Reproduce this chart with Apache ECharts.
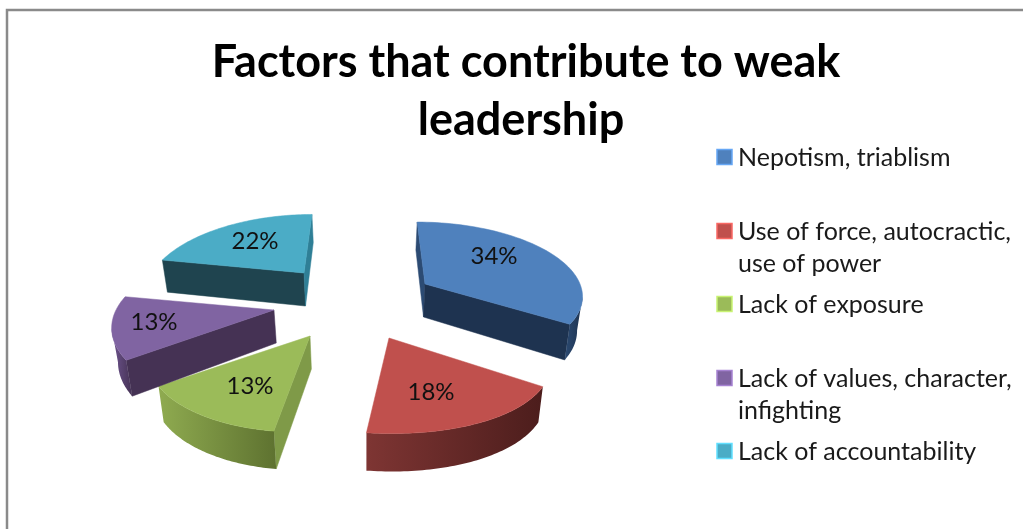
<!DOCTYPE html>
<html>
<head>
<meta charset="utf-8">
<title>Factors that contribute to weak leadership</title>
<style>
  html, body { margin: 0; padding: 0; background: #fff; }
  #chart { width: 1023px; height: 529px; }
</style>
<script src="https://cdn.jsdelivr.net/npm/echarts@6/dist/echarts.min.js"></script>
</head>
<body>
<div id="chart"></div>
<script>
// Chart values
const categories = ['Nepotism, triablism', 'Use of force, autocractic,\nuse of power', 'Lack of exposure', 'Lack of values, character,\ninfighting', 'Lack of accountability'];
const shares = [34, 18, 13, 13, 22];
const titleLines = ['Factors that contribute to weak', 'leadership'];

// Slice colours: top face, start-cut wall, end-cut wall, outer wall gradient
const topColors = ['#4F81BD', '#C0504D', '#9BBB59', '#8064A2', '#4BACC6'];
const startCutColors = ['#2C4B73', '#4A1C1B', '#7F9A48', '#453254', '#1F444F'];
const endCutColors = ['#1E3350', '#4A1C1B', '#7F9A48', '#453254', '#2F7F96'];
const outerWallStops = [['#2B4A72', '#1E3350'], ['#7E3533', '#4C1D1C'], ['#8FAB50', '#5E7230'], ['#6F5590', '#453254'], ['#1F444F', '#1F444F']];

// Projection of each exploded slice of the tilted disc
const THICKNESS = 33, VANISH_X = 365, CONVERGE = 0.025;
const sliceApex = [[425, 284], [389, 338], [310, 336], [274, 310], [304, 273]];
const sliceRadius = [155, 158, 155, 158, 152];
const sliceDepth = [70, 86, 74, 74, 72];
const perspX = [0.13, 0.23, 0.23, 0.23, 0.23];
const perspY = [0.13, 0.1, 0.23, 0.23, 0.23];
const sliceSlant = [0.13, 0.13, 0.2, 0, 0.13];
const labelAt = [[494, 256], [431, 392], [250, 386], [154, 322], [255, 241]];

function rimPoint(i, angle) {
  const apex = sliceApex[i];
  const u = Math.sin(angle), v = -Math.cos(angle);
  return [apex[0] + sliceRadius[i] * u / (1 - perspX[i] * v) + (apex[0] - VANISH_X) * sliceSlant[i] * v,
          apex[1] + sliceDepth[i] * v / (1 - perspY[i] * v), v];
}
// Lower edge of a wall: walls lean towards the vanishing line and grow nearer the viewer
const dropped = (p, v) => [p[0] + (VANISH_X - p[0]) * CONVERGE, p[1] + THICKNESS * (1 + 0.15 * (v === undefined ? 0 : v))];

function renderSlice(params, api) {
  const i = params.dataIndex;
  const total = shares.reduce((a, b) => a + b, 0);
  const before = shares.slice(0, i).reduce((a, b) => a + b, 0);
  const a0 = before / total * Math.PI * 2;
  const a1 = (before + api.value(0)) / total * Math.PI * 2;
  const apex = sliceApex[i];
  const steps = 60;
  const rim = [];
  for (let k = 0; k <= steps; k++) rim.push(rimPoint(i, a0 + (a1 - a0) * k / steps));

  const children = [];
  const wall = (a, b, va, vb, color) => ({
    type: 'polygon',
    shape: { points: [a, b, dropped(b, vb), dropped(a, va)] },
    style: { fill: color, stroke: color, lineWidth: 0.5 }
  });
  const first = rim[0], last = rim[steps];
  // A wall can be seen only when its top edge runs leftwards around the clockwise outline
  if (first[0] < apex[0]) children.push(wall(apex, first, 0, first[2], startCutColors[i]));
  if (apex[0] < last[0]) children.push(wall(last, apex, last[2], 0, endCutColors[i]));

  const visible = [];
  for (let k = 0; k <= steps; k++) {
    const goingLeft = (k < steps && rim[k + 1][0] < rim[k][0]) || (k > 0 && rim[k][0] < rim[k - 1][0]);
    if (goingLeft) visible.push(rim[k]);
  }
  if (visible.length > 1) {
    const band = visible.map(p => [p[0], p[1]]).concat(visible.slice().reverse().map(p => dropped(p, p[2])));
    const grad = new echarts.graphic.LinearGradient(0, 0, 1, 0, [
      { offset: 0, color: outerWallStops[i][0] },
      { offset: 1, color: outerWallStops[i][1] }
    ]);
    children.push({ type: 'polygon', shape: { points: band }, style: { fill: grad } });
  }
  children.push({
    type: 'polygon',
    shape: { points: [apex].concat(rim.map(p => [p[0], p[1]])) },
    style: { fill: topColors[i], stroke: topColors[i], lineWidth: 0.5 }
  });
  children.push({
    type: 'text',
    style: {
      x: labelAt[i][0], y: labelAt[i][1], text: api.value(0) + '%',
      font: '24px Lato, sans-serif', fill: '#111', align: 'center', verticalAlign: 'middle'
    }
  });
  return { type: 'group', children };
}

// Legend rows, placed by hand since wrapped names share the marker's first line
const legendY = [157, 231, 304, 378, 451];
const legendGraphics = [];
categories.forEach((name, i) => {
  legendGraphics.push({
    type: 'rect',
    shape: { x: 717, y: legendY[i] - 7.5, width: 15, height: 15 },
    style: { fill: topColors[i], stroke: echarts.color.lift(topColors[i], -0.3), lineWidth: 1.5 }
  });
  legendGraphics.push({
    type: 'text',
    style: {
      x: 738, y: legendY[i] - 15.5, text: name,
      font: '25px Lato, sans-serif', fill: '#1a1a1a', lineHeight: 32
    }
  });
});

const titleStyle = { fontFamily: 'Lato, sans-serif', fontWeight: 'bold', fontSize: 45, color: '#000' };
const chart = echarts.init(document.getElementById('chart'), null, { renderer: 'canvas' });
chart.setOption({
  backgroundColor: '#fff',
  animation: false,
  title: [
    { text: titleLines[0], left: 521, top: 35, textAlign: 'center', textStyle: titleStyle },
    { text: titleLines[1], left: 516, top: 93, textAlign: 'center', textStyle: titleStyle }
  ],
  graphic: [
    { type: 'polyline', shape: { points: [[7, 529], [7, 10], [1023, 10]] }, style: { fill: null, stroke: '#8a8a8a', lineWidth: 2.5 } }
  ].concat(legendGraphics),
  series: [{
    type: 'custom',
    coordinateSystem: 'none',
    renderItem: renderSlice,
    data: shares.map(v => [v])
  }]
});
</script>
</body>
</html>
